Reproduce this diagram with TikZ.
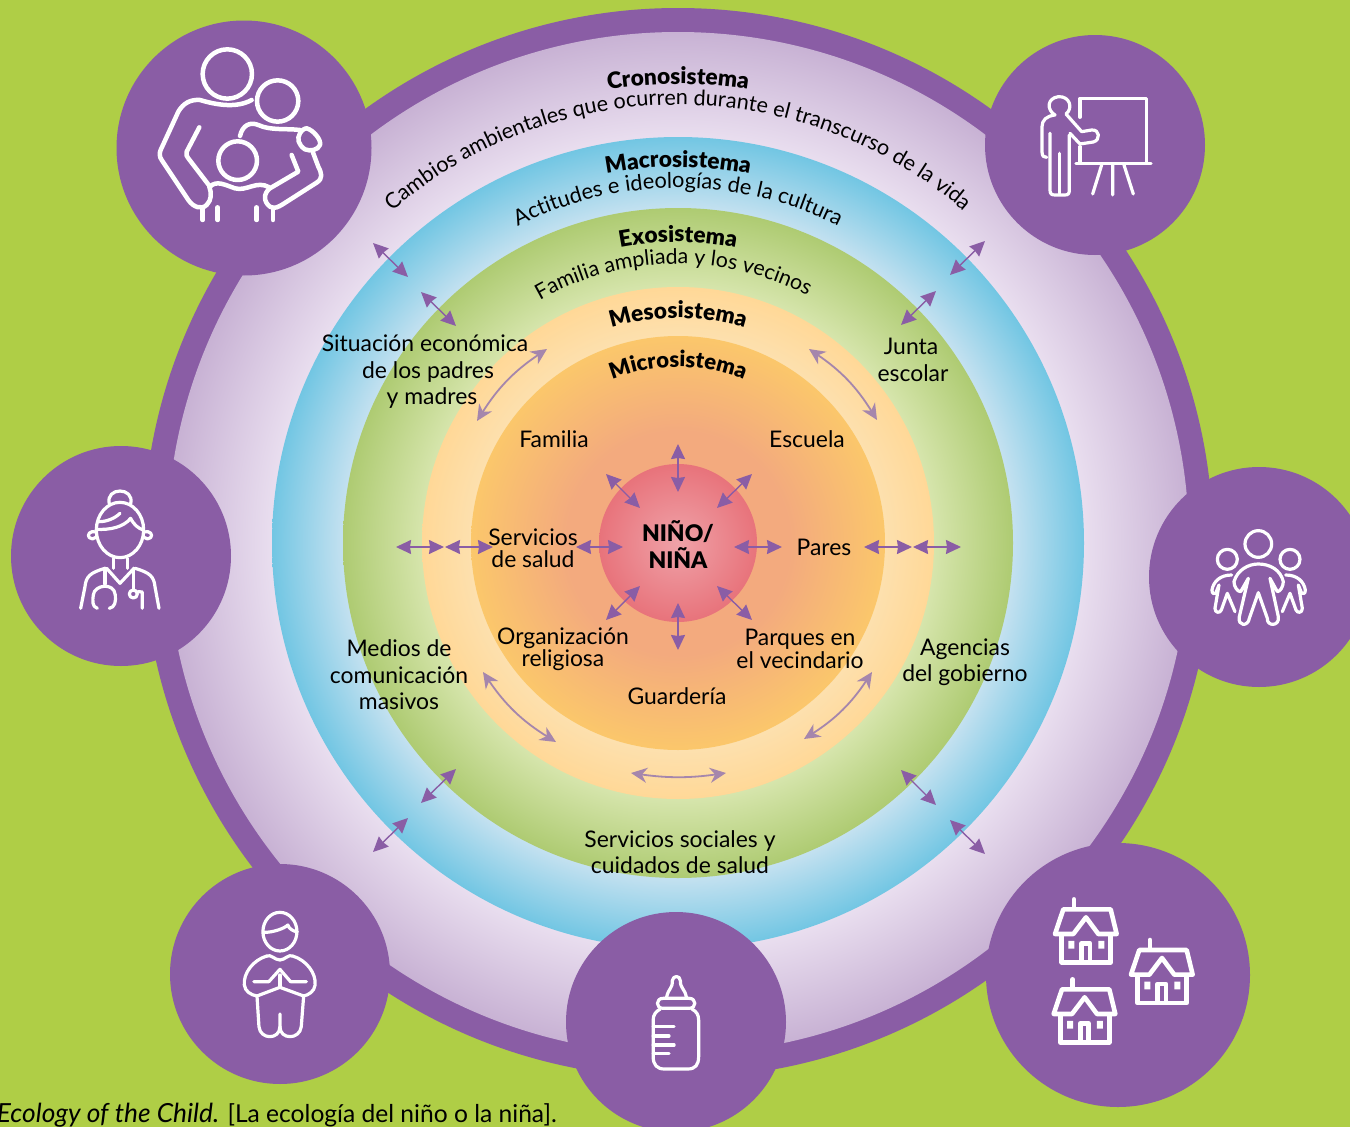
\documentclass[tikz,border=0pt]{standalone}
\usepackage{fontspec}
\setmainfont{Lato}[BoldFont=Lato Black]
\usetikzlibrary{arrows.meta,decorations.text}
\definecolor{bgreen}{HTML}{AFCE46}
\definecolor{purp}{HTML}{8A5DA5}
\definecolor{curvarr}{HTML}{A586AC}
\definecolor{cr1}{HTML}{E9DEEF}\definecolor{cr2}{HTML}{C8B2D4}
\definecolor{ma1}{HTML}{C4E1F0}\definecolor{ma2}{HTML}{72C6E3}
\definecolor{ex1}{HTML}{D6E5AC}\definecolor{ex2}{HTML}{AECB72}
\definecolor{me1}{HTML}{FDE0AE}\definecolor{me2}{HTML}{FFD897}
\definecolor{mi1}{HTML}{F3AA7E}\definecolor{mi2}{HTML}{FBC76B}
\definecolor{ch1}{HTML}{EFA2A8}\definecolor{ch2}{HTML}{E8737B}
\pgfdeclareradialshading{cronoS}{\pgfpointorigin}{color(0bp)=(cr1); color(19.85bp)=(cr1); color(25bp)=(cr2); color(50bp)=(cr2)}
\pgfdeclareradialshading{macroS}{\pgfpointorigin}{color(0bp)=(ma1); color(20.6bp)=(ma1); color(25bp)=(ma2); color(50bp)=(ma2)}
\pgfdeclareradialshading{exoS}{\pgfpointorigin}{color(0bp)=(ex1); color(19.1bp)=(ex1); color(25bp)=(ex2); color(50bp)=(ex2)}
\pgfdeclareradialshading{mesoS}{\pgfpointorigin}{color(0bp)=(me1); color(20.2bp)=(me1); color(25bp)=(me2); color(50bp)=(me2)}
\pgfdeclareradialshading{microS}{\pgfpointorigin}{color(0bp)=(mi1); color(13.5bp)=(mi1); color(25bp)=(mi2); color(50bp)=(mi2)}
\pgfdeclareradialshading{childS}{\pgfpointorigin}{color(0bp)=(ch1); color(25bp)=(ch2); color(50bp)=(ch2)}
\newcommand\dbl[3]{\coordinate (#1a) at (#2); \coordinate (#1b) at (#3); \draw[arr] (#1a) -- (#1b);}
\newcommand\crv[4]{\coordinate (#1a) at (#2); \coordinate (#1b) at (#3); \draw[carr] (#1a) to[#4] (#1b);}
\newcommand\arctext[3]{\path[decorate,decoration={text along path,text align=center,text={|#1|#3}}] (180:#2) arc (180:0:#2);}
\newcommand\house[2]{\begin{scope}[shift={(#1,#2)}]
 \draw[iconh] (282,178)--(282,205);
 \draw[iconh] (225,282)--(250,208)--(392,208)--(410,282)--(355,282)--(318,232)--(280,282)--cycle;
 \draw[iconh] (245,285)--(245,367)--(392,367)--(392,285);
 \draw[iconh] (305,360)--(305,310)--(330,310)--(330,360);
 \fill[white] (265,303) rectangle (283,326) (355,303) rectangle (373,326);
\end{scope}}
\tikzset{
 sat/.style={fill=purp,draw=none},
 lbl/.style={inner sep=0pt,align=center,font=\fontsize{22.9}{26.5}\selectfont,text=black},
 lbs/.style={inner sep=0pt,align=center,font=\fontsize{22.9}{22.5}\selectfont,text=black},
 arr/.style={draw=purp,line width=1.4pt,{Stealth[length=15pt,width=14pt,inset=1pt,fill=purp]}-{Stealth[length=15pt,width=14pt,inset=1pt,fill=purp]}},
 carr/.style={draw=curvarr,line width=1.8pt,{Stealth[length=16pt,width=15pt,inset=5pt,fill=curvarr]}-{Stealth[length=16pt,width=15pt,inset=5pt,fill=curvarr]}},
 icon/.style={draw=white,line width=4.5pt,line cap=round,line join=round},
 iconm/.style={draw=white,line width=3.2pt,line cap=round,line join=round},
 iconh/.style={draw=white,line width=4.6pt,line cap=round,line join=round},
}
\begin{document}
\begin{tikzpicture}[x=1pt,y=-1pt]
\useasboundingbox (0,0) rectangle (1350,1127);
\fill[bgreen] (0,0) rectangle (1350,1127);
% rings
\fill[purp] (678,543) circle [radius=535];
\shade[shading=cronoS] (678,543) circle [radius=511];
\shade[shading=macroS] (678,543) circle [radius=406];
\shade[shading=exoS] (678,543) circle [radius=335];
\shade[shading=mesoS] (678,543) circle [radius=256];
\shade[shading=microS] (678,543) circle [radius=207];
\shade[shading=childS] (678,543) circle [radius=79];
% satellites
\fill[sat] (244,148) circle [radius=127.5];
\fill[sat] (1095,145) circle [radius=110];
\fill[sat] (1259,577) circle [radius=110];
\fill[sat] (1118,975) circle [radius=132];
\fill[sat] (676,1022) circle [radius=110];
\fill[sat] (280,974) circle [radius=110];
\fill[sat] (121,556) circle [radius=110];
% family icon
\begin{scope}[shift={(110,10)},x=.3333pt,y=-.3333pt]
 \draw[icon] (352,192) circle [radius=74];
 \draw[icon] (503,273) circle [radius=62];
 \draw[icon] (383,452) circle [radius=58];
 \draw[icon] (425,270) .. controls (380,295) and (320,285) .. (270,270) .. controls (240,268) and (220,280) .. (205,305) -- (152,420) .. controls (148,430) and (148,440) .. (155,450) -- (235,570) .. controls (250,592) and (275,600) .. (290,585) .. controls (305,570) and (305,550) .. (298,530);
 \draw[icon] (268,352) -- (230,425) .. controls (228,435) and (230,440) .. (235,445) -- (300,530) .. controls (320,510) and (345,525) .. (375,535) .. controls (410,545) and (440,510) .. (478,532);
 \draw[icon] (545,435) -- (565,485) -- (480,535) .. controls (460,550) and (460,575) .. (480,590) .. controls (495,598) and (505,590) .. (515,585) -- (620,518) .. controls (640,505) and (635,490) .. (625,470) -- (608,425);
 \draw[icon] (590,355) .. controls (610,360) and (635,390) .. (630,405) .. controls (625,420) and (600,425) .. (585,418) .. controls (565,405) and (560,385) .. (570,370) .. controls (575,360) and (585,355) .. (590,355);
 \draw[icon] (390,378) .. controls (398,345) and (420,335) .. (445,345) .. controls (480,362) and (530,355) .. (570,360);
 \draw[icon] (278,598)--(278,630) (323,592)--(323,630) (440,592)--(440,630) (489,600)--(489,630);
\end{scope}
% teacher icon
\begin{scope}[shift={(980,30)},x=.3333pt,y=-.3333pt]
 \draw[iconm] (300,262)--(300,205)--(500,205)--(500,400);
 \draw[iconm] (300,350)--(300,400);
 \draw[iconm] (288,400)--(513,400);
 \draw[iconm] (398,405)--(398,495) (365,405)--(338,492) (432,405)--(460,492);
 \draw[iconm] (225,255) .. controls (200,240) and (200,205) .. (235,200) .. controls (270,198) and (280,235) .. (258,252) -- (305,305) -- (335,300) .. controls (360,298) and (362,330) .. (340,336) -- (300,342) -- (270,310);
 \draw[iconm] (225,255) .. controls (200,258) and (186,270) .. (186,290) -- (186,365) .. controls (186,378) and (192,384) .. (200,382);
 \draw[iconm] (210,310)--(210,480) .. controls (210,492) and (215,495) .. (225,495) -- (255,495) .. controls (265,495) and (268,490) .. (268,480) -- (268,315);
 \draw[iconm] (238,370)--(238,490);
\end{scope}
% houses
\begin{scope}[shift={(980,840)},x=.3333pt,y=-.3333pt]
 \house{0}{0}\house{228}{122}\house{-4}{240}
\end{scope}
% nurse
\begin{scope}[shift={(10,440)},x=.3333pt,y=-.3333pt]
 \draw[iconm] (298,192) .. controls (285,140) and (375,140) .. (362,192);
 \draw[iconm] (330,270) ellipse [x radius=71, y radius=83];
 \draw[iconm] (259,268) .. controls (300,270) and (340,262) .. (362,235) .. controls (372,255) and (385,265) .. (400,270);
 \draw[iconm] (268,245) .. controls (290,245) and (315,235) .. (330,220);
 \draw[iconm] (258,276) .. controls (240,270) and (230,285) .. (238,293) .. controls (243,298) and (252,298) .. (258,292);
 \draw[iconm] (402,276) .. controls (420,270) and (430,285) .. (422,293) .. controls (417,298) and (408,298) .. (402,292);
 \draw[iconm] (310,355)--(310,385) (352,355)--(352,385);
 \draw[iconm] (290,385)--(330,430)--(372,385);
 \draw[iconm] (285,385) .. controls (240,398) and (228,410) .. (225,440) -- (212,505);
 \draw[iconm] (375,385) .. controls (420,398) and (432,410) .. (435,440) -- (447,505);
 \draw[iconm] (285,385)--(285,432);
 \draw[iconm] (262,505) .. controls (245,500) and (248,480) .. (250,465) .. controls (252,435) and (312,425) .. (316,465) .. controls (318,485) and (315,502) .. (298,505);
 \draw[iconm] (370,385)--(370,450);
 \draw[iconm] (370,462) circle [radius=12];
 \draw[iconm] (384,455)--(397,456)--(397,505);
\end{scope}
% children
\begin{scope}[shift={(1150,470)},x=.3333pt,y=-.3333pt]
 \draw[iconm] (325,222) circle [radius=40];
 \draw[iconm] (232,268) circle [radius=30];
 \draw[iconm] (420,268) circle [radius=30];
 \draw[iconm] (295,325) -- (272,365) .. controls (262,365) and (252,350) .. (252,335) .. controls (262,300) and (295,282) .. (325,282) .. controls (360,282) and (392,300) .. (400,335) .. controls (400,350) and (390,365) .. (382,365) -- (360,325) -- (385,440) .. controls (390,470) and (350,470) .. (352,445) -- (325,368) -- (298,445) .. controls (295,470) and (262,470) .. (268,440) -- (295,325);
 \draw[iconm] (245,315) .. controls (210,315) and (190,335) .. (186,360) .. controls (186,372) and (192,372) .. (197,370) -- (207,345) -- (195,415) .. controls (195,430) and (210,430) .. (214,420) -- (232,370) -- (255,425);
 \draw[iconm] (407,315) .. controls (442,315) and (462,335) .. (466,360) .. controls (466,372) and (460,372) .. (455,370) -- (445,345) -- (457,415) .. controls (457,430) and (442,430) .. (438,420) -- (420,370) -- (397,425);
\end{scope}
% baby and bottle
\begin{scope}[shift={(170,880)},x=.3954pt,y=-.3333pt]
 \draw[iconm] (278,155) ellipse [x radius=43, y radius=58];
 \draw[iconm] (237,157) .. controls (260,158) and (290,145) .. (298,135) .. controls (300,145) and (312,155) .. (322,155);
 \draw[iconm] (245,228) .. controls (255,222) and (265,240) .. (278,240) .. controls (290,240) and (300,222) .. (310,228) .. controls (345,240) and (370,280) .. (367,315) .. controls (365,335) and (350,345) .. (338,348);
 \draw[iconm] (245,228) .. controls (210,240) and (185,280) .. (188,315) .. controls (190,335) and (205,345) .. (220,348);
 \draw[iconm] (212,305)--(250,305)--(278,268)--(305,305)--(345,305);
 \draw[iconm] (220,348)--(278,322)--(338,348);
 \draw[iconm] (278,285)--(278,322);
 \draw[iconm] (220,348)--(225,440) .. controls (228,480) and (278,480) .. (278,440) -- (278,402);
 \draw[iconm] (278,440) .. controls (278,480) and (328,480) .. (332,440) -- (338,348);
 % bottle
 \draw[iconm] (1256,352) .. controls (1260,325) and (1272,325) .. (1270,303) .. controls (1272,285) and (1290,285) .. (1291,303) .. controls (1290,325) and (1302,325) .. (1306,352);
 \draw[iconm] (1247,355) -- (1313,355) .. controls (1332,355) and (1332,385) .. (1313,385) -- (1247,385) .. controls (1228,385) and (1228,355) .. (1247,355);
 \draw[iconm] (1240,387) .. controls (1228,395) and (1222,405) .. (1222,420) -- (1222,530) .. controls (1222,555) and (1232,567) .. (1250,567) -- (1310,567) .. controls (1328,567) and (1337,555) .. (1337,530) -- (1337,420) .. controls (1337,405) and (1332,395) .. (1320,387);
 \draw[iconm] (1222,440)--(1275,440) (1222,468)--(1262,468) (1222,495)--(1275,495) (1222,520)--(1262,520);
\end{scope}
% arcs of text
\begin{scope}[shift={(678,543)},x=1pt,y=1pt]
 \arctext{\fontsize{22.6}{23}\selectfont\bfseries}{459}{Cronosistema}
 \arctext{\fontsize{21.6}{22}\selectfont}{438}{Cambios ambientales que ocurren durante el transcurso de la vida}
 \arctext{\fontsize{22.6}{23}\selectfont\bfseries}{376}{Macrosistema}
 \arctext{\fontsize{21.8}{22}\selectfont}{355}{Actitudes e ideologías de la cultura}
 \arctext{\fontsize{22.6}{23}\selectfont\bfseries}{301}{Exosistema}
 \begin{scope}[rotate=1]
 \arctext{\fontsize{21.3}{22}\selectfont}{279}{Familia ampliada y los vecinos}
 \end{scope}
 \arctext{\fontsize{22.6}{23}\selectfont\bfseries}{225}{Mesosistema}
 \arctext{\fontsize{22}{23}\selectfont\bfseries}{176}{Microsistema}
\end{scope}
% labels
\node[lbl] (situacion) at (428,372) {Situación económica\hspace*{6pt}\\de los padres\\\hspace*{8pt}y madres};
\node[lbl] (junta) at (913,360) {Junta\hspace*{4pt}\\escolar};
\node[lbl] (familia) at (554,439) {Familia};
\node[lbl] (escuela) at (807,439) {Escuela};
\node[lbs] (salud) at (533,548) {Servicios\\de salud};
\node[lbl,font=\fontsize{22.9}{27}\selectfont\bfseries] (nino) at (678,545) {NIÑO/\\NIÑA};
\node[lbl] (pares) at (824,547) {Pares};
\node[lbs] (religiosa) at (563,649) {Organización\\religiosa};
\node[lbs] (parques) at (800,649) {Parques en\\el vecindario};
\node[lbl] (guarderia) at (677,696) {Guardería};
\node[lbl] (medios) at (399,675) {Medios de\\comunicación\\masivos};
\node[lbl] (agencias) at (965,662) {Agencias\\del gobierno};
\node[lbl] (sociales) at (680,852) {Servicios sociales y\\cuidados de salud};
\node[lbl,anchor=east,font=\fontsize{24.6}{26}\selectfont] (caption) at (557,1115) {\textit{\fontsize{26.3}{26}\selectfont Ecology of the Child.} [La ecología del niño o la niña].};
% radial arrows
\dbl{n}{678,444}{678,492}
\dbl{s}{678,603}{678,650}
\dbl{nw}{606,474}{640,508}
\dbl{ne}{752,474}{717,508}
\dbl{sw}{640,586}{606,620}
\dbl{se}{717,586}{752,620}
\dbl{w}{576,547}{623,547}
\dbl{e}{734,547}{782,547}
\dbl{ea}{864,547}{912,547}
\dbl{eb}{913,547}{961,547}
\dbl{wa}{396,547}{444,547}
\dbl{wb}{445,547}{493,547}
\dbl{ula}{373,243}{408,277}
\dbl{ulb}{421,292}{456,326}
\dbl{ura}{985,241}{950,275}
\dbl{urb}{936,291}{901,325}
\dbl{lla}{456,769}{421,803}
\dbl{llb}{408,818}{373,852}
\dbl{lra}{901,770}{936,805}
\dbl{lrb}{950,820}{985,854}
% curved arrows
\crv{ctl}{547,349}{477,421}{bend right=12}
\crv{ctr}{809,349}{877,420}{bend left=12}
\crv{cbl}{483,672}{556,742}{bend right=12}
\crv{cbr}{872,672}{804,739}{bend left=12}
\crv{cb}{631,773}{726,773}{bend right=8}
\end{tikzpicture}
\end{document}
